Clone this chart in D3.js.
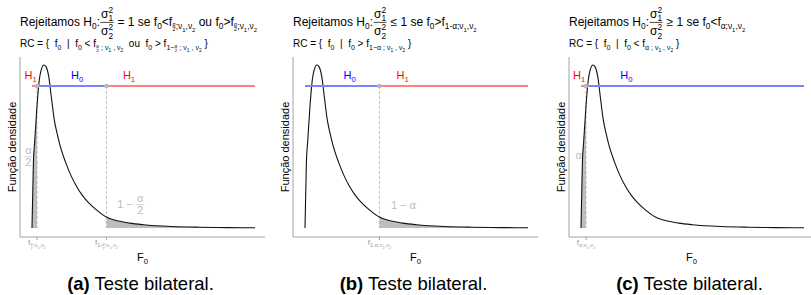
<!DOCTYPE html>
<html>
<head>
<meta charset="utf-8">
<script src="https://cdn.jsdelivr.net/npm/d3@7"></script>
<style>
  body { margin: 0; background: #fff; }
  text { font-family: "Liberation Sans", Arial, sans-serif; white-space: pre; }
</style>
</head>
<body>
<div id="chart"></div>
<script>
// density of F0 (same curve in the three panels)
const fGrid   = [0, 0.05, 0.1, 0.18, 0.25, 0.33, 0.43, 0.5, 0.6, 0.7, 0.8, 0.9, 1.0, 1.2, 1.4, 1.6, 1.8, 2.0, 2.3, 2.67, 3.0, 3.5, 4.0, 5.0, 6.0, 7.0, 8.0];
const density = [0, 0.28, 0.378, 0.525, 0.623, 0.679, 0.7, 0.693, 0.651, 0.556, 0.464, 0.406, 0.357, 0.284, 0.225, 0.178, 0.141, 0.112, 0.079, 0.047, 0.033, 0.021, 0.014, 0.0065, 0.0033, 0.0018, 0.001];
const hypLevel = 0.61;          // height of the H0 / H1 line
const critA = [0.18, 2.67];     // bilateral
const critB = [2.67];           // right tail
const critC = [0.18];           // left tail

const W = 811, H = 295;
const svg = d3.select("#chart").append("svg")
  .attr("width", W).attr("height", H)
  .attr("viewBox", [0, 0, W, H]);

const pts = fGrid.map((u, i) => ({ u: u, d: density[i] }));

// draw a run of text with sub/superscripts and fractions, returns its width
function rich(g, parts, fs, col) {
  let cx = 0;
  parts.forEach(p => {
    if (typeof p === "string") {
      const t = g.append("text").attr("x", cx).attr("y", 0).attr("font-size", fs).text(p);
      cx += t.node().getComputedTextLength();
    } else if (p.sub || p.sup) {
      const k = p.k || 0.7;
      const sg = g.append("g")
        .attr("transform", `translate(${cx},${p.sub ? fs * 0.28 : -fs * 0.42})`);
      cx += rich(sg, p.sub || p.sup, fs * k, col);
    } else if (p.stack) {
      const k = p.k || 0.7;
      const a = g.append("g").attr("transform", `translate(${cx},${-fs * 0.42})`);
      const b = g.append("g").attr("transform", `translate(${cx},${fs * 0.3})`);
      cx += Math.max(rich(a, p.stack[0], fs * k, col), rich(b, p.stack[1], fs * k, col));
    } else if (p.frac) {
      const f = fs * (p.k || 1);
      const bar = -fs * 0.3;
      const a = g.append("g"), b = g.append("g");
      const wa = rich(a, p.frac[0], f, col), wb = rich(b, p.frac[1], f, col);
      const pad = p.pad != null ? p.pad : f * 0.12;
      const w = Math.max(wa, wb) + pad * 2;
      a.attr("transform", `translate(${cx + (w - wa) / 2},${bar - (p.up != null ? p.up : f * 0.18 + 0.4)})`);
      b.attr("transform", `translate(${cx + (w - wb) / 2},${bar + (p.down != null ? p.down : f * 0.74 + 0.4)})`);
      if (p.bar !== false) {
        g.append("line")
          .attr("x1", cx + pad * 0.5).attr("x2", cx + w - pad * 0.5)
          .attr("y1", bar).attr("y2", bar)
          .attr("stroke", col).attr("stroke-width", Math.max(0.5, f * 0.06));
      }
      cx += w;
    }
  });
  return cx;
}

function richAt(parent, x, y, parts, fs, col, anchor) {
  const g = parent.append("g").attr("fill", col);
  const w = rich(g, parts, fs, col);
  const dx = anchor === "middle" ? -w / 2 : 0;
  g.attr("transform", `translate(${x + dx},${y})`);
  return g;
}

const s0 = { sub: ["0"] }, s1 = { sub: ["1"] }, s2 = { sub: ["2"] };
const half = { frac: [["α"], ["2"]], k: 0.62, pad: 0.3, up: 0.9, down: 4.6 };
const sigmaFrac = {
  frac: [["σ", { stack: [["2"], ["1"]] }], ["σ", { stack: [["2"], ["2"]] }]],
  pad: 1, up: 4.8, down: 12.8
};

const panels = [
  {
    x0: 20, cap: "(a)", crit: critA, zones: ["H1", "H0", "H1"],
    labels: [-0.05, 1.62, 3.48],
    title: ["Rejeitamos H", s0, ":", sigmaFrac, " = 1 se f", s0, "<f",
            { sub: [half, ";ν", s1, ",ν", s2] }, " ou f", s0, ">f", { sub: [half, ";ν", s1, ",ν", s2] }],
    rc: ["RC = {  f", s0, "  |  f", s0, " < f", { sub: [half, " ; ν", s1, " , ν", s2] },
         "  ou  f", s0, " > f", { sub: ["1−", half, " ; ν", s1, " , ν", s2] }, " }"],
    ticks: [["f", { sub: [half, ";ν", s1, ",ν", s2] }],
            ["f", { sub: ["1-", half, ";ν", s1, ",ν", s2] }]],
    notes: [{ u: -0.13, d: 0.305, t: [{ frac: [["α"], ["2"]], down: 9.5, up: 2.5 }] },
            { u: 3.55, d: 0.099, t: ["1 − ", { frac: [["α"], ["2"]], down: 9.5, up: 2.5 }] }],
    shade: ["left", "right"]
  },
  {
    x0: 293, cap: "(b)", crit: critB, zones: ["H0", "H1"],
    labels: [1.6, 3.5],
    title: ["Rejeitamos H", s0, ":", sigmaFrac, " ≤ 1 se f", s0, ">f", { sub: ["1-α;ν", s1, ",ν", s2] }],
    rc: ["RC = {  f", s0, "  |  f", s0, " > f", { sub: ["1−α ; ν", s1, " , ν", s2] }, " }"],
    ticks: [["f", { sub: ["1-α;ν", s1, ",ν", s2] }]],
    notes: [{ u: 3.53, d: 0.094, t: ["1 − α"] }],
    shade: ["right"]
  },
  {
    x0: 569, cap: "(c)", crit: critC, zones: ["H1", "H0"],
    labels: [-0.07, 1.63],
    title: ["Rejeitamos H", s0, ":", sigmaFrac, " ≥ 1 se f", s0, "<f", { sub: ["α;ν", s1, ",ν", s2] }],
    rc: ["RC = {  f", s0, "  |  f", s0, " < f", { sub: ["α ; ν", s1, " , ν", s2] }, " }"],
    ticks: [["f", { sub: ["α;ν", s1, ",ν", s2] }]],
    notes: [{ u: -0.08, d: 0.31, t: ["α"] }],
    shade: ["left"]
  }
];

const axisCol = "#8c8c8c", shadeCol = "#bebebe", noteCol = "#bdbdbd";
const zoneCol = { H0: "#7f7fff", H1: "#ff8080" };
const zoneText = { H0: "#0000ff", H1: "#ff0000" };

panels.forEach(p => {
  const g = svg.append("g").attr("transform", `translate(${p.x0},0)`);
  const x = d3.scaleLinear().domain([0, 8]).range([12, 235]);
  const y = d3.scaleLinear().domain([0, 0.7]).range([228, 65]);

  // axes lines
  g.append("line").attr("x1", 0).attr("x2", 0).attr("y1", 57).attr("y2", 237)
    .attr("stroke", axisCol).attr("stroke-width", 0.8);
  g.append("line").attr("x1", 0).attr("x2", 245).attr("y1", 237).attr("y2", 237)
    .attr("stroke", axisCol).attr("stroke-width", 0.8);

  // shaded tails
  const area = d3.area().x(d => x(d.u)).y0(y(0)).y1(d => y(d.d)).curve(d3.curveMonotoneX);
  p.shade.forEach(side => {
    const c = side === "left" ? p.crit[0] : p.crit[p.crit.length - 1];
    const sel = pts.filter(d => side === "left" ? d.u <= c + 1e-9 : d.u >= c - 1e-9);
    g.append("path").attr("d", area(sel)).attr("fill", shadeCol);
  });

  // dashed critical lines
  p.crit.forEach(c => {
    g.append("line").attr("x1", x(c)).attr("x2", x(c)).attr("y1", y(hypLevel)).attr("y2", y(0))
      .attr("stroke", "#b0b0b0").attr("stroke-width", 0.8).attr("stroke-dasharray", "3,2");
    g.append("line").attr("x1", x(c)).attr("x2", x(c)).attr("y1", 237).attr("y2", 240)
      .attr("stroke", axisCol).attr("stroke-width", 0.8);
  });

  // density curve
  g.append("path")
    .attr("d", d3.line().x(d => x(d.u)).y(d => y(d.d)).curve(d3.curveMonotoneX)(pts))
    .attr("fill", "none").attr("stroke", "#111").attr("stroke-width", 1.1);

  // hypothesis segments
  const bounds = [0, ...p.crit, 8];
  p.zones.forEach((z, i) => {
    g.append("line").attr("x1", x(bounds[i])).attr("x2", x(bounds[i + 1]))
      .attr("y1", y(hypLevel)).attr("y2", y(hypLevel))
      .attr("stroke", zoneCol[z]).attr("stroke-width", 2);
    richAt(g, x(p.labels[i]), y(hypLevel) - 7, ["H", { sub: [z.slice(1)] }], 11, zoneText[z], "middle");
  });
  p.crit.forEach(c => {
    g.append("circle").attr("cx", x(c)).attr("cy", y(hypLevel)).attr("r", 2.3).attr("fill", "#b8b8b8");
  });

  // annotations of probabilities
  p.notes.forEach(n => richAt(g, x(n.u), y(n.d) + 3, n.t, 11, noteCol, "middle"));

  // tick labels
  p.crit.forEach((c, i) => richAt(g, x(c), 245, p.ticks[i], 8, "#9a9a9a", "middle"));

  // titles
  richAt(g, 0, 26, p.title, 12, "#000", "start");
  richAt(g, 0, 47, p.rc, 10, "#000", "start");

  // axis titles
  richAt(g, 122.5, 261, ["F", s0], 11, "#000", "middle");
  g.append("text").attr("transform", "translate(-4,147) rotate(-90)")
    .attr("text-anchor", "middle").attr("font-size", 11).text("Função densidade");

  // caption
  const cap = g.append("text").attr("x", 120.5).attr("y", 290)
    .attr("text-anchor", "middle").attr("font-size", 18.5);
  cap.append("tspan").attr("font-weight", "bold").text(p.cap);
  cap.append("tspan").text(" Teste bilateral.");
});
</script>
</body>
</html>
